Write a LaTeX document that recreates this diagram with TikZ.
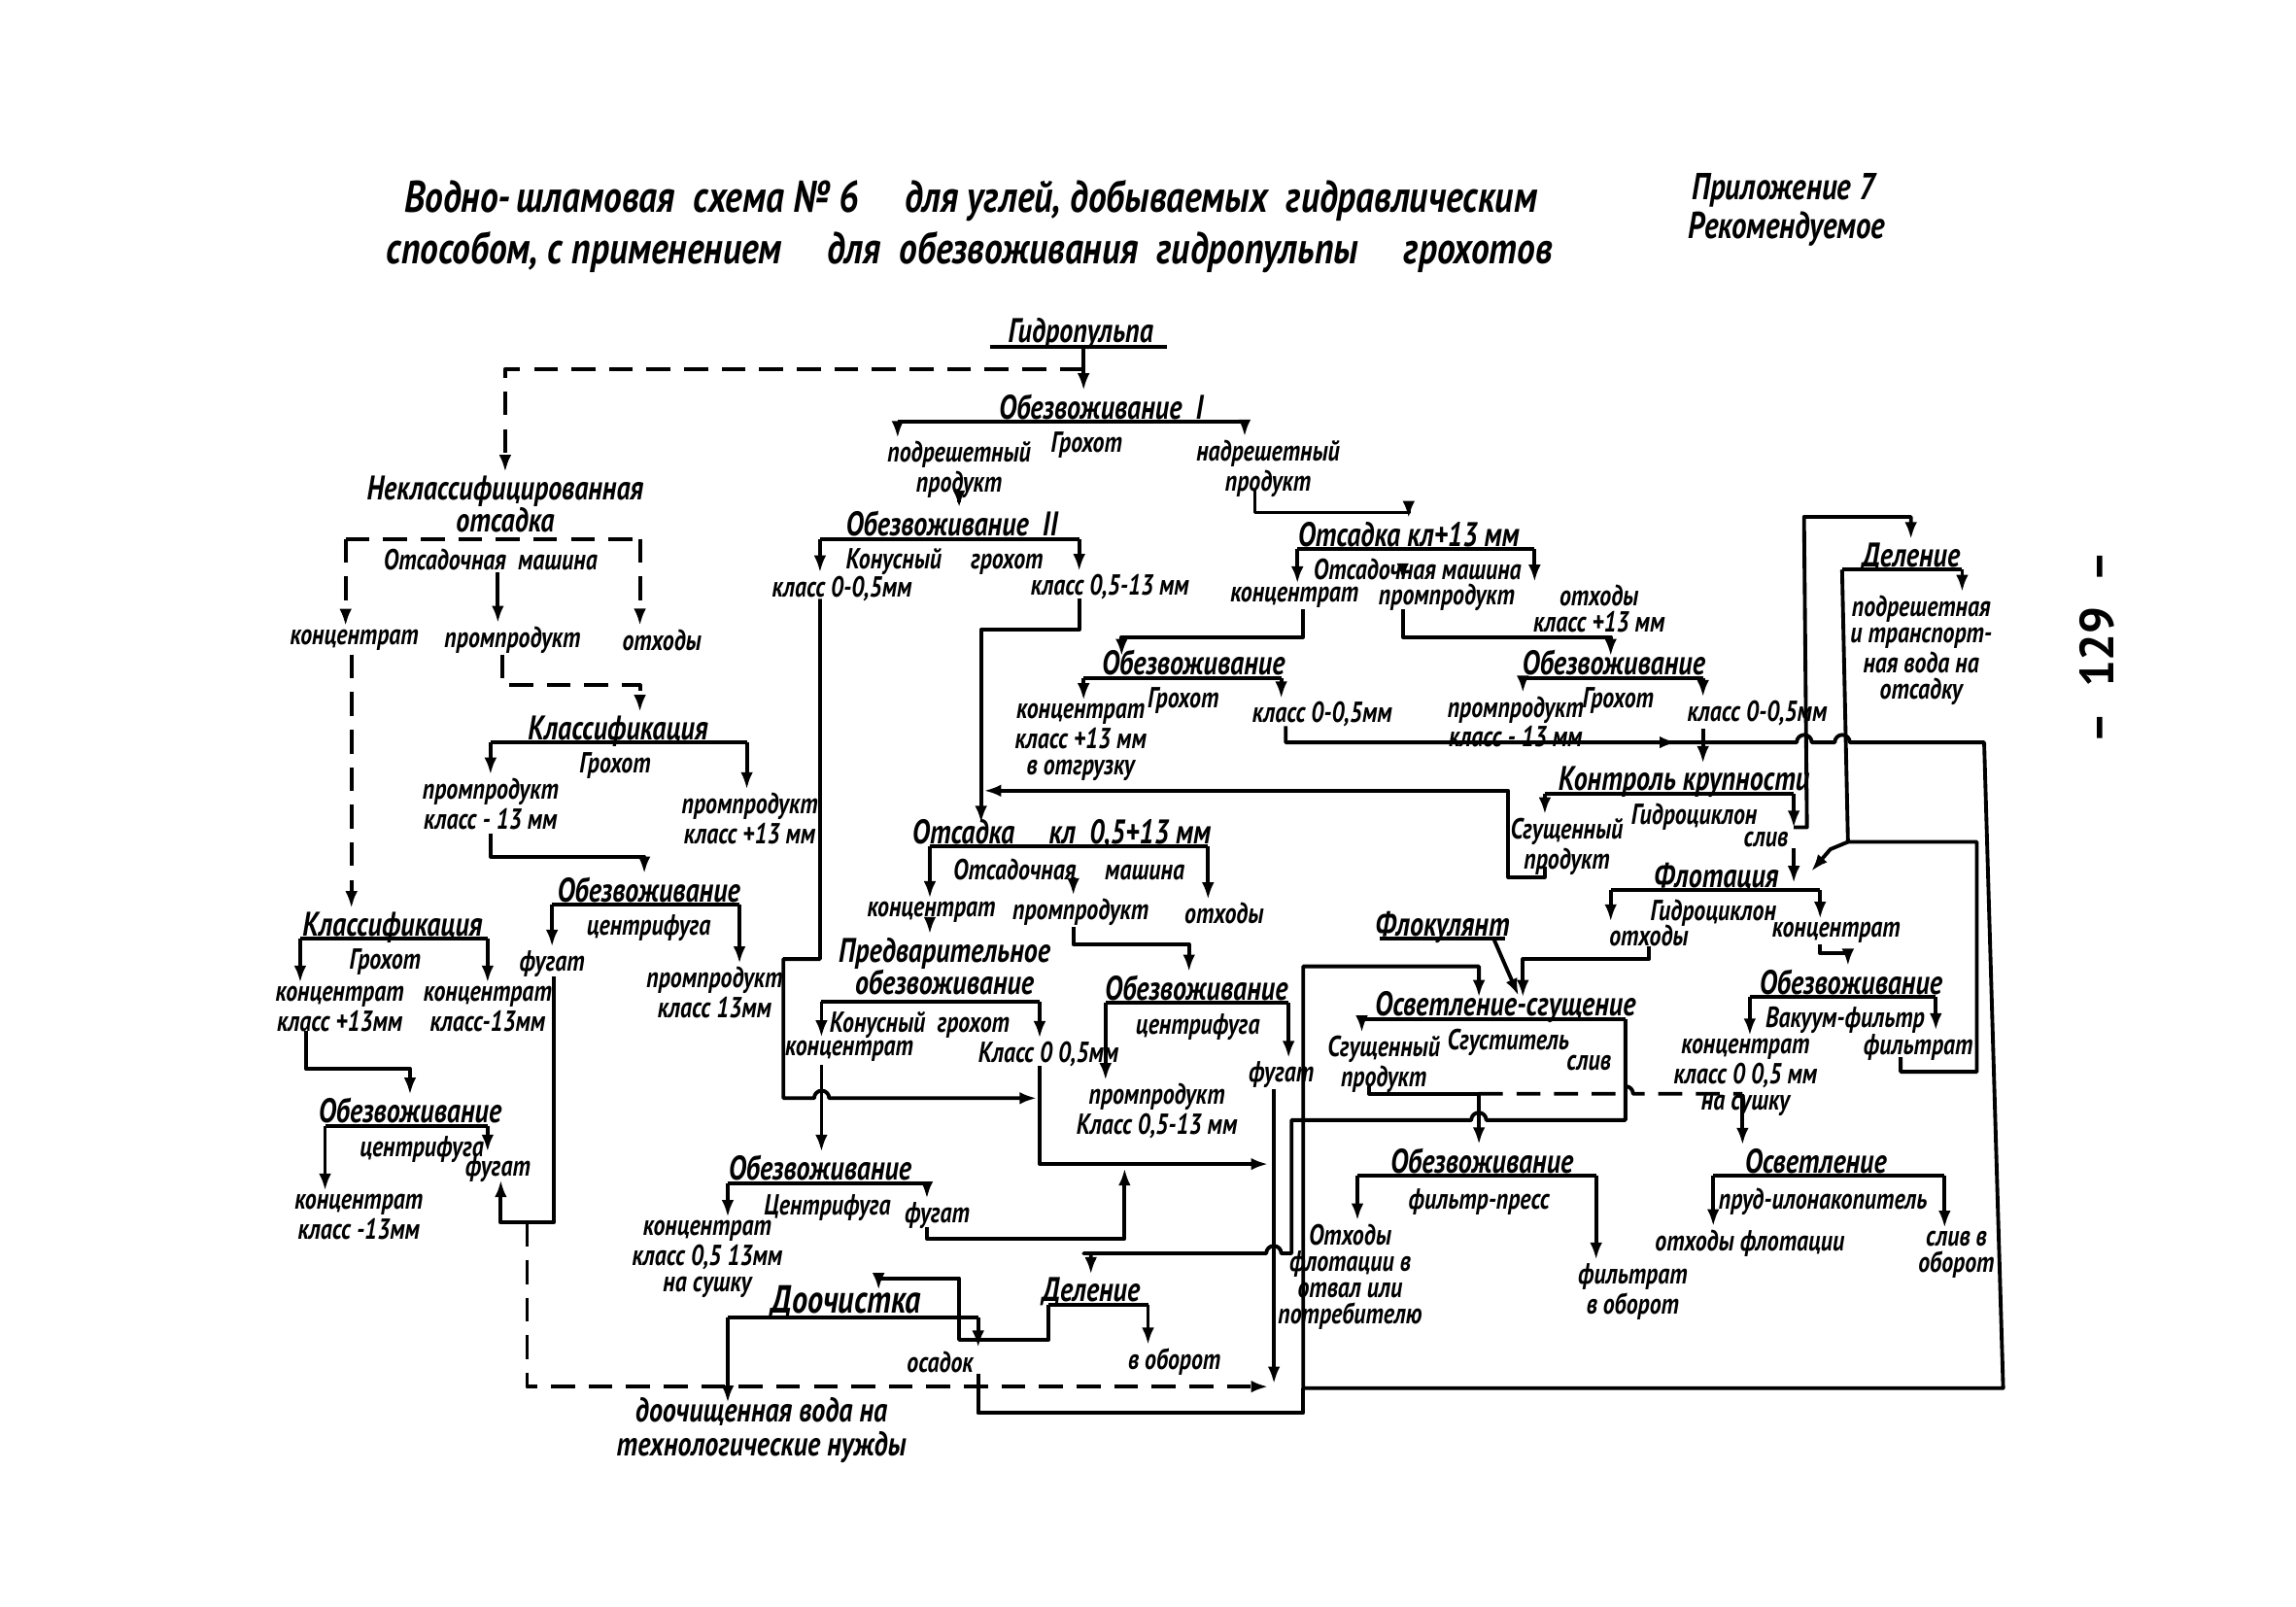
\documentclass[tikz,border=0pt]{standalone}
\usepackage{fontspec}
\setmainfont{PT Sans}
\usetikzlibrary{arrows.meta,calc}
\tikzset{
  lbl/.style={font=\fontsize{8.5}{7.7}\selectfont\bfseries\itshape, align=center, inner sep=.5pt, xscale=.8},
  ttl/.style={lbl, font=\fontsize{10}{8}\selectfont\bfseries\itshape, anchor=base},
  sub/.style={lbl, anchor=north, yshift=-1pt},
  big/.style={lbl, font=\fontsize{13}{15}\selectfont\bfseries\itshape, xscale=1.025},
  arr/.style={-{Latex[length=5pt,width=3.6pt]}},
  dsh/.style={dash pattern=on 7pt off 4pt},
}
\begin{document}
\begin{tikzpicture}[x=0.01507cm, y=-0.01507cm, line width=1.1pt, line join=round]
\useasboundingbox (0,0) rectangle (1568,1097);
\fill[white] (0,0) rectangle (1568,1097);

%% header
\node[big] (tit1) at (663,137) {Водно-\,шламовая \ схема № 6 \quad для углей, добываемых \ гидравлическим};
\node[big] (tit2) at (662,172) {способом, с применением \quad для \ обезвоживания \ гидропульпы \quad грохотов};
\node[lbl, font=\fontsize{11}{11}\selectfont\bfseries\itshape] (pril) at (1218,130) {Приложение 7};
\node[lbl, font=\fontsize{11}{11}\selectfont\bfseries\itshape] (rekom) at (1220,156) {Рекомендуемое};
\node[font=\fontsize{14}{14}\selectfont\bfseries, rotate=90] (page) at (1432,442) {– \ 129 \ –};

%% left column
\node[ttl, anchor=south, font=\fontsize{10}{9.5}\selectfont\bfseries\itshape] (nekl) at (345,366) {Неклассифицированная\\отсадка};
\node[sub] (otsm) at (335,370) {Отсадочная \ машина};
\node[lbl] (koncN) at (242,437) {концентрат};
\node[lbl] (promN) at (350,437) {промпродукт};
\node[lbl] (otxN) at (452,437) {отходы};
\node[ttl] (klas1) at (422,505) {Классификация};
\node[sub] (grK1) at (420,509) {Грохот};
\node[lbl] (promK) at (335,549) {промпродукт\\класс - 13 мм};
\node[lbl] (promK2) at (512,559) {промпродукт\\класс +13 мм};
\node[ttl] (obcL) at (443,616) {Обезвоживание};
\node[sub] (cfL) at (443,620) {центрифуга};
\node[lbl] (fugL) at (377,658) {фугат};
\node[lbl] (promcL) at (488,678) {промпродукт\\класс 13мм};
\node[ttl] (klas2) at (268,639) {Классификация};
\node[sub] (grK2) at (263,643) {Грохот};
\node[lbl] (koncK1) at (232,689) {концентрат\\класс +13мм};
\node[lbl] (koncK2) at (333,689) {концентрат\\класс-13мм};
\node[ttl] (obcLL) at (280,767) {Обезвоживание};
\node[sub] (cfLL) at (288,771) {центрифуга};
\node[lbl] (koncLL) at (245,831) {концентрат\\класс -13мм};
\node[lbl] (fugLL) at (340,798) {фугат};

%% centre
\node[ttl] (gidro) at (738,234) {Гидропульпа};
\node[ttl] (obI) at (752,286) {Обезвоживание \ I};
\node[sub] (grI) at (742,290) {Грохот};
\node[lbl] (podr) at (655,321) {подрешетный\\продукт};
\node[lbl] (nadr) at (866,320) {надрешетный\\продукт};
\node[ttl] (obII) at (650,366) {Обезвоживание \ II};
\node[sub] (konII) at (645,370) {Конусный \quad грохот};
\node[lbl] (k05a) at (575,402) {класс 0-0,5мм};
\node[lbl] (k513) at (758,401) {класс 0,5-13 мм};
\node[ttl] (ots13) at (962,373) {Отсадка кл+13 мм};
\node[sub] (ots13m) at (968,377) {Отсадочная машина};
\node[lbl] (konc13) at (884,408) {концентрат};
\node[lbl] (prom13) at (988,408) {промпродукт};
\node[lbl] (otx13) at (1092,416) {отходы\\класс +13 мм};
\node[ttl] (obgrL) at (815,461) {Обезвоживание};
\node[sub] (grL) at (808,465) {Грохот};
\node[lbl] (koncL) at (738,507) {концентрат\\класс +13 мм\\в отгрузку};
\node[lbl] (k05b) at (903,488) {класс 0-0,5мм};
\node[ttl] (obgrR) at (1102,461) {Обезвоживание};
\node[sub] (grR) at (1105,465) {Грохот};
\node[lbl] (promR) at (1035,493) {промпродукт\\класс - 13 мм};
\node[lbl] (k05c) at (1200,487) {класс 0-0,5мм};
\node[ttl] (kontr) at (1150,540) {Контроль крупности};
\node[sub] (gidrc) at (1157,544) {Гидроциклон};
\node[lbl] (sgpr) at (1070,578) {Сгущенный\\продукт};
\node[lbl] (sliv1) at (1206,573) {слив};
\node[ttl] (delen) at (1305,387) {Деление};
\node[lbl] (podrv) at (1312,444) {подрешетная\\и транспорт-\\ная вода на\\отсадку};
\node[ttl] (flot) at (1172,606) {Флотация};
\node[sub] (gidrc2) at (1170,610) {Гидроциклон};
\node[lbl] (otxf) at (1126,639) {отходы};
\node[lbl] (koncf) at (1254,637) {концентрат};
\node[ttl] (obvak) at (1264,679) {Обезвоживание};
\node[sub] (vakf) at (1260,683) {Вакуум-фильтр};
\node[lbl] (koncv) at (1192,736) {концентрат\\класс 0 0,5 мм\\на сушку};
\node[lbl] (filtr) at (1310,715) {фильтрат};
\node[ttl] (flok) at (985,639) {Флокулянт};
\node[ttl] (osvs) at (1028,694) {Осветление-сгущение};
\node[sub] (sgust) at (1030,698) {Сгуститель};
\node[lbl] (sgpr2) at (945,727) {Сгущенный\\продукт};
\node[lbl] (sliv2) at (1085,726) {слив};
\node[ttl] (obfp) at (1012,801) {Обезвоживание};
\node[sub] (fpress) at (1010,807) {фильтр-пресс};
\node[lbl] (otxfl) at (922,872) {Отходы\\флотации в\\отвал или\\потребителю};
\node[lbl] (filtob) at (1115,882) {фильтрат\\в оборот};
\node[ttl] (osvet) at (1240,801) {Осветление};
\node[sub] (prud) at (1245,807) {пруд-илонакопитель};
\node[lbl] (otxfl2) at (1195,849) {отходы флотации};
\node[lbl] (slivob) at (1336,857) {слив в\\оборот};
\node[ttl] (ots05) at (725,576) {Отсадка \quad кл \ 0,5+13 мм};
\node[sub] (ots05m) at (730,582) {Отсадочная \quad машина};
\node[lbl] (koncO) at (636,623) {концентрат};
\node[lbl] (promO) at (738,623) {промпродукт};
\node[lbl] (otxO) at (836,624) {отходы};
\node[ttl, anchor=south, font=\fontsize{10}{9.5}\selectfont\bfseries\itshape] (predv) at (645,682) {Предварительное\\обезвоживание};
\node[sub] (konpr) at (628,686) {Конусный \ грохот};
\node[lbl] (koncP) at (580,718) {концентрат};
\node[lbl] (k05P) at (716,720) {Класс 0 0,5мм};
\node[ttl] (obcR) at (817,683) {Обезвоживание};
\node[sub] (cfR) at (818,688) {центрифуга};
\node[lbl] (promcR) at (790,759) {промпродукт\\Класс 0,5-13 мм};
\node[lbl] (fugR) at (875,734) {фугат};
\node[ttl] (obcB) at (560,806) {Обезвоживание};
\node[sub] (cfB) at (565,811) {Центрифуга};
\node[lbl] (koncB) at (483,860) {концентрат\\класс 0,5 13мм\\на сушку};
\node[lbl] (fugB) at (640,830) {фугат};
\node[ttl, font=\fontsize{11.5}{11}\selectfont\bfseries\itshape] (dooch) at (578,897) {Доочистка};
\node[lbl] (osad) at (642,930) {осадок};
\node[ttl] (del2) at (745,889) {Деление};
\node[lbl] (vobor) at (802,930) {в оборот};
\node[lbl, font=\fontsize{10}{10}\selectfont\bfseries\itshape] (dochv) at (520,977) {доочищенная вода на\\технологические нужды};

%% bars under the titles
\draw (676,237) -- (797,237);
\draw (613,288) coordinate (b1l) -- (850,288) coordinate (b1r);
\draw (560,368) coordinate (b2l) -- (737,368) coordinate (b2r);
\draw (886,375) coordinate (b3l) -- (1048,375) coordinate (b3r);
\draw (740,463) coordinate (b4l) -- (875,463) coordinate (b4r);
\draw (1040,463) coordinate (b5l) -- (1163,463) coordinate (b5r);
\draw (1055,542) coordinate (b6l) -- (1225,542) coordinate (b6r);
\draw (1258,389) coordinate (b7l) -- (1340,389) coordinate (b7r);
\draw (1100,608) coordinate (b8l) -- (1243,608) coordinate (b8r);
\draw (1195,681) coordinate (b9l) -- (1322,681) coordinate (b9r);
\draw (942,641) -- (1028,641);
\draw (930,696) coordinate (b10l) -- (1110,696) coordinate (b10r);
\draw (927,803) coordinate (b11l) -- (1090,803) coordinate (b11r);
\draw (1170,803) coordinate (b12l) -- (1328,803) coordinate (b12r);
\draw (635,578) coordinate (b13l) -- (825,578) coordinate (b13r);
\draw (561,684) coordinate (b14l) -- (710,684) coordinate (b14r);
\draw (755,685) coordinate (b15l) -- (880,685) coordinate (b15r);
\draw (497,808) coordinate (b16l) -- (633,808) coordinate (b16r);
\draw (497,900) coordinate (b17l) -- (668,900) coordinate (b17r);
\draw (716,891) coordinate (b18l) -- (784,891) coordinate (b18r);
\draw[dsh] (236,368) coordinate (b19l) -- (437,368) coordinate (b19r);
\draw (335,507) coordinate (b20l) -- (510,507) coordinate (b20r);
\draw (377,618) coordinate (b21l) -- (505,618) coordinate (b21r);
\draw (205,641) coordinate (b22l) -- (333,641) coordinate (b22r);
\draw (222,769) coordinate (b23l) -- (333,769) coordinate (b23r);

%% drops from the bars
\foreach \b/\n in {b1l/podr, b1r/nadr, b2l/k05a, b2r/k513, b3l/konc13, b3r/otx13,
    b4l/koncL, b4r/k05b, b5l/promR, b5r/k05c, b6l/sgpr, b6r/sliv1, b7r/podrv,
    b8l/otxf, b8r/koncf, b9l/koncv, b9r/filtr, b10l/sgpr2, b11l/otxfl, b11r/filtob,
    b12l/otxfl2, b12r/slivob, b13l/koncO, b13r/otxO, b14l/koncP, b14r/k05P,
    b15l/promcR, b15r/fugR, b16l/koncB, b16r/fugB, b17r/osad, b18r/vobor,
    b20l/promK, b20r/promK2, b21l/fugL, b21r/promcL, b22l/koncK1, b22r/koncK2,
    b23l/koncLL, b23r/fugLL}
  \draw[arr] (\b) -- (\b |- \n.north);
\draw[dsh,arr] (b19l) -- (b19l |- koncN.north);
\draw[dsh,arr] (b19r) -- (b19r |- otxN.north);
\draw[arr] (340,391) coordinate (m1) -- (m1 |- promN.north);
\draw[arr] (958,392) coordinate (m2) -- (m2 |- prom13.north);
\draw[arr] (733,599) coordinate (m3) -- (m3 |- promO.north);

%% connectors
\draw[arr] (740,237) coordinate (g0) -- (g0 |- obI.north);
\draw[dsh,arr] (740,252) -| (nekl.north);
\draw[arr] (podr.south) -- (podr.south |- obII.north);
\draw[arr] (857,334) -- (857,350) -| (ots13.north);
\draw[arr] (560,409) -- (560,655) -- (535,655) -- (535,750) -- (556,750)
  arc[start angle=180, end angle=0, radius=2.2pt] -- (708,750);
\draw[arr] (737,409) -- (737,430) -- (670,430) -- (670,562);
\draw[arr] (890,416) -- (890,435) -- (766,435) -- (766,448);
\draw[arr] (958,416) -- (958,435) -- (1100,435) -- (1100,448);
\draw[arr] (878,496) -- (878,507) -- (1227,507)
  arc[start angle=180, end angle=0, radius=2.2pt] -- (1253,507)
  arc[start angle=180, end angle=0, radius=2.2pt] -- (1355,507)
  -- (1368,948) -- (890,948) -- (890,660) -| (1010,681);
\draw[arr] (1120,507) -- (1145,507);
\draw[arr] (k05c.south -| b5r) -- (b5r |- kontr.north);
\draw[arr] (1055,592) -- (1055,599) -- (1030,599) -- (1030,540) -- (672,540);
\draw[arr] (1225,579) -- (1225,603);
\draw[arr] (1225,565) -- (1234,565) -- (1232,353) -| (delen.north);
\draw (b7l) -- (1262,575) -- (1350,575) -- (1350,732) -- (1298,732) -- (1298,722);
\draw[arr] (1262,575) -- (1250,580) -- (1237,595);
\draw[arr] (1126,646) -- (1126,655) -- (1040,655) -- (1040,681);
\draw[arr] (1020,641) -- (1037,680);
\draw[arr] (1243,645) -- (1243,651) -- (1262,651) -- (obvak.north -| 1262,0);
\draw[arr] (935,742) -- (935,747) -- (1010,747) -- (obfp.north -| 1010,0);
\draw[dsh] (1010,747) -- (1105,747) arc[start angle=180, end angle=0, radius=2.2pt] -- (1190,747);
\draw[arr] (1190,747) -- (osvet.north -| 1190,0);
\draw[arr] (b10r) -- (1110,765) -- (1015,765) arc[start angle=0, end angle=180, radius=2.2pt]
  -- (882,765) -- (882,856) -- (875,856) arc[start angle=0, end angle=180, radius=2.2pt]
  -- (740,856) -| (del2.north);
\draw[arr] (870,744) -- (870,945);
\draw[arr] (710,728) -- (710,795) -- (866,795);
\draw[arr] (633,838) -- (633,846) -- (768,846) -- (768,798);
\draw[arr] (koncP.south -| b14l) -- (b14l |- obcB.north);
\draw[arr] (635,633) -- (predv.north -| 635,0);
\draw[arr] (733,633) -- (733,645) -- (812,645) -- (obcR.north -| 812,0);
\draw[arr] (b18l) -- (716,915) -- (655,915) -- (655,873) -- (600,873) -- (600,881);
\draw[arr] (b17l) -- (497,958);
\draw (668,938) -- (668,965) -- (890,965) -- (890,948);
\draw[dsh,arr] (360,835) -- (360,947) -- (866,947);
\draw[arr] (378,667) -- (378,835) -- (342,835) -- (342,806);
\draw[dsh,arr] (343,447) -- (343,468) -- (437,468) -- (klas1.north -| 437,0);
\draw[dsh,arr] (240,447) -- (klas2.north -| 240,0);
\draw[arr] (335,569) -- (335,585) -- (440,585) -- (obcL.north -| 440,0);
\draw[arr] (209,704) -- (209,730) -- (280,730) -- (obcLL.north);
\end{tikzpicture}
\end{document}
